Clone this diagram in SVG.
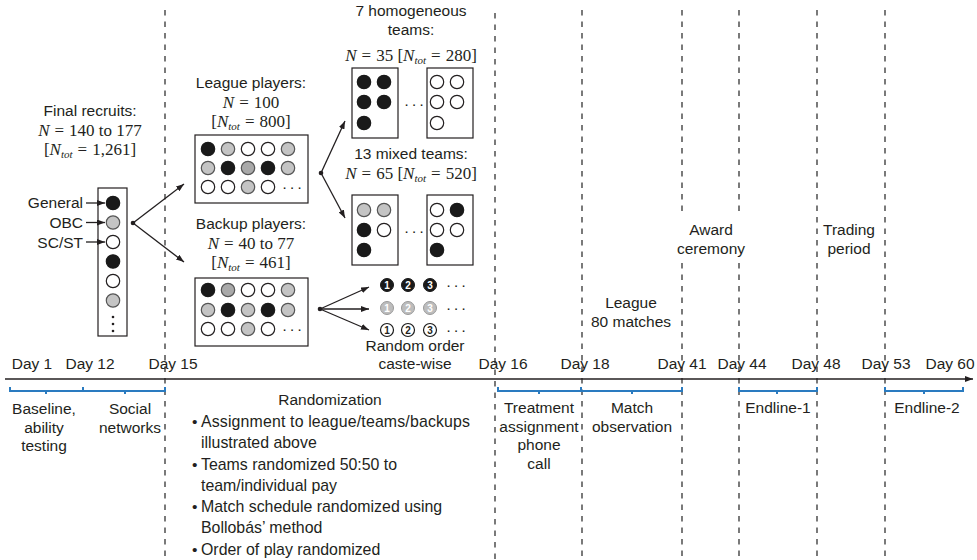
<svg xmlns="http://www.w3.org/2000/svg" width="977" height="560" viewBox="0 0 977 560">
<style>
text{font-family:"Liberation Sans",Arial,sans-serif;font-size:15.5px;fill:#231f20}
.m{font-family:"Liberation Serif","Times New Roman",serif;font-size:17px}
.i{font-style:italic}
.sub{font-style:italic;font-size:11px}
.c{text-anchor:middle}
.r{text-anchor:end}
.b{font-size:15.9px}
.dash{stroke:#333;stroke-width:1.3;stroke-dasharray:5.5 6;fill:none}
.ln{stroke:#231f20;stroke-width:1.3;fill:none}
.box{fill:#fff;stroke:#231f20;stroke-width:1.2}
.k{fill:#1a1a1a;stroke:#1a1a1a;stroke-width:1.2}
.g{fill:#c4c4c4;stroke:#555;stroke-width:1.2}
.g2{fill:#a9a9a9;stroke:#555;stroke-width:1.2}
.w{fill:#fff;stroke:#231f20;stroke-width:1.2}
.br{stroke:#2a7bc0;stroke-width:2;fill:none}
.dots{font-size:15.5px;letter-spacing:2.4px}
.num{font-family:"Liberation Sans",Arial,sans-serif;font-size:10px;font-weight:bold;text-anchor:middle}
</style>
<defs>
<marker id="ah" viewBox="0 0 8 6" refX="8" refY="3" markerWidth="8" markerHeight="6" markerUnits="userSpaceOnUse" orient="auto">
<path d="M0,0 L8,3 L0,6 z" fill="#231f20"/>
</marker>
</defs>
<rect width="977" height="560" fill="#fff"/>

<g id="timeline">
<path class="dash" d="M165,10 V560"/>
<path class="dash" d="M495,13 V560"/>
<path class="dash" d="M582,10 V560"/>
<path class="dash" d="M682,10 V213 M682,263 V560"/>
<path class="dash" d="M739,10 V213 M739,263 V560"/>
<path class="dash" d="M817,10 V560"/>
<path class="dash" d="M885,10 V560"/>
<line class="ln" x1="5" y1="379" x2="973" y2="379" marker-end="url(#ah)"/>
<text class="c" x="32" y="369">Day 1</text>
<text class="c" x="90" y="369">Day 12</text>
<text class="c" x="173" y="369">Day 15</text>
<text class="c" x="503" y="369">Day 16</text>
<text class="c" x="585" y="369">Day 18</text>
<text class="c" x="682" y="369">Day 41</text>
<text class="c" x="742" y="369">Day 44</text>
<text class="c" x="816" y="369">Day 48</text>
<text class="c" x="886" y="369">Day 53</text>
<text class="c" x="950" y="369">Day 60</text>
</g>

<g id="brackets">
<path class="br" d="M10,387 V391 H83 V387 M46,391 V394"/>
<path class="br" d="M83,387 V391 H165 V387 M125,391 V394"/>
<path class="br" d="M498,387 V391 H581 V387 M539,391 V394"/>
<path class="br" d="M581,387 V391 H682 V387 M632,391 V394"/>
<path class="br" d="M739,387 V391 H817 V387 M777,391 V394"/>
<path class="br" d="M885,387 V391 H963 V387 M924,391 V394"/>
</g>

<g id="phase-labels">
<text class="c" x="44" y="414">Baseline,</text>
<text class="c" x="44" y="433">ability</text>
<text class="c" x="44" y="451">testing</text>
<text class="c" x="130" y="414">Social</text>
<text class="c" x="130" y="433">networks</text>
<text class="c" x="330" y="405">Randomization</text>
<text x="192" y="427">•</text><text class="b" x="201" y="427" textLength="269" lengthAdjust="spacing">Assignment to league/teams/backups</text>
<text class="b" x="201" y="448">illustrated above</text>
<text x="192" y="470">•</text><text class="b" x="201" y="470">Teams randomized 50:50 to</text>
<text class="b" x="201" y="491">team/individual pay</text>
<text x="192" y="512">•</text><text class="b" x="201" y="512">Match schedule randomized using</text>
<text class="b" x="201" y="533">Bollobás’ method</text>
<text x="192" y="555">•</text><text class="b" x="201" y="555">Order of play randomized</text>
<text class="c" x="539" y="413">Treatment</text>
<text class="c" x="539" y="432">assignment</text>
<text class="c" x="539" y="450">phone</text>
<text class="c" x="539" y="469">call</text>
<text class="c" x="632" y="413">Match</text>
<text class="c" x="632" y="432">observation</text>
<text class="c" x="778" y="413">Endline-1</text>
<text class="c" x="927" y="413">Endline-2</text>
<text class="c" x="631" y="308">League</text>
<text class="c" x="631" y="327">80 matches</text>
<text class="c" x="711" y="235">Award</text>
<text class="c" x="711" y="254">ceremony</text>
<text class="c" x="849" y="235">Trading</text>
<text class="c" x="849" y="254">period</text>
</g>

<g id="recruits">
<text class="c" x="90" y="116">Final recruits:</text>
<text class="m c" x="90" y="136"><tspan class="i">N</tspan><tspan dx="5">=</tspan><tspan dx="5">140 to 177</tspan></text>
<text class="m c" x="90" y="155">[<tspan class="i">N</tspan><tspan class="sub" dy="3">tot</tspan><tspan dy="-3" dx="5">=</tspan><tspan dx="5">1,261]</tspan></text>
<rect class="box" x="98" y="188" width="29" height="148"/>
<circle class="k" cx="113" cy="203" r="6.7"/>
<circle class="g" cx="113" cy="222.5" r="6.7"/>
<circle class="w" cx="113" cy="242" r="6.7"/>
<circle class="k" cx="113" cy="261.5" r="6.7"/>
<circle class="w" cx="113" cy="281" r="6.7"/>
<circle class="g" cx="113" cy="300.5" r="6.7"/>
<circle cx="113" cy="317" r="1.3" fill="#231f20"/>
<circle cx="113" cy="324" r="1.3" fill="#231f20"/>
<circle cx="113" cy="331" r="1.3" fill="#231f20"/>
<text class="r" x="83" y="208">General</text>
<text class="r" x="83" y="228">OBC</text>
<text class="r" x="83" y="248">SC/ST</text>
</g>

<g id="league">
<text class="c" x="251" y="88">League players:</text>
<text class="m c" x="251" y="108"><tspan class="i">N</tspan><tspan dx="5">=</tspan><tspan dx="5">100</tspan></text>
<text class="m c" x="251" y="127">[<tspan class="i">N</tspan><tspan class="sub" dy="3">tot</tspan><tspan dy="-3" dx="5">=</tspan><tspan dx="5">800]</tspan></text>
<rect class="box" x="195" y="135" width="113" height="68"/>
<circle class="k" cx="208" cy="149" r="6.7"/>
<circle class="g" cx="228" cy="149" r="6.7"/>
<circle class="w" cx="248" cy="149" r="6.7"/>
<circle class="w" cx="268" cy="149" r="6.7"/>
<circle class="g" cx="288" cy="149" r="6.7"/>
<circle class="g" cx="208" cy="168" r="6.7"/>
<circle class="k" cx="228" cy="168" r="6.7"/>
<circle class="g2" cx="248" cy="168" r="6.7"/>
<circle class="k" cx="268" cy="168" r="6.7"/>
<circle class="g" cx="288" cy="168" r="6.7"/>
<circle class="w" cx="208" cy="187" r="6.7"/>
<circle class="w" cx="228" cy="187" r="6.7"/>
<circle class="g" cx="248" cy="187" r="6.7"/>
<circle class="w" cx="268" cy="187" r="6.7"/>
<text class="dots" x="282" y="192">···</text>
</g>

<g id="backup">
<text class="c" x="251" y="229">Backup players:</text>
<text class="m c" x="251" y="249"><tspan class="i">N</tspan><tspan dx="5">=</tspan><tspan dx="5">40 to 77</tspan></text>
<text class="m c" x="251" y="268">[<tspan class="i">N</tspan><tspan class="sub" dy="3">tot</tspan><tspan dy="-3" dx="5">=</tspan><tspan dx="5">461]</tspan></text>
<rect class="box" x="195" y="278" width="113" height="68"/>
<circle class="k" cx="208" cy="290" r="6.7"/>
<circle class="g2" cx="228" cy="290" r="6.7"/>
<circle class="w" cx="248" cy="290" r="6.7"/>
<circle class="w" cx="268" cy="290" r="6.7"/>
<circle class="g" cx="288" cy="290" r="6.7"/>
<circle class="g" cx="208" cy="310" r="6.7"/>
<circle class="k" cx="228" cy="310" r="6.7"/>
<circle class="g" cx="248" cy="310" r="6.7"/>
<circle class="k" cx="268" cy="310" r="6.7"/>
<circle class="g" cx="288" cy="310" r="6.7"/>
<circle class="w" cx="208" cy="329" r="6.7"/>
<circle class="w" cx="228" cy="329" r="6.7"/>
<circle class="g" cx="248" cy="329" r="6.7"/>
<circle class="w" cx="268" cy="329" r="6.7"/>
<text class="dots" x="282" y="334">···</text>
</g>

<g id="homogeneous-teams">
<text class="c" x="411" y="16">7 homogeneous</text>
<text class="c" x="411" y="35">teams:</text>
<text class="m c" x="411" y="61"><tspan class="i">N</tspan><tspan dx="5">=</tspan><tspan dx="5">35 [</tspan><tspan class="i">N</tspan><tspan class="sub" dy="3">tot</tspan><tspan dy="-3" dx="5">=</tspan><tspan dx="5">280]</tspan></text>
<rect class="box" x="352" y="68" width="46" height="70"/>
<circle class="k" cx="364" cy="82" r="6.7"/>
<circle class="k" cx="384" cy="82" r="6.7"/>
<circle class="k" cx="364" cy="102" r="6.7"/>
<circle class="k" cx="384" cy="102" r="6.7"/>
<circle class="k" cx="364" cy="123" r="6.7"/>
<text class="dots" x="404" y="109">···</text>
<rect class="box" x="427" y="68" width="46" height="70"/>
<circle class="w" cx="437" cy="82" r="6.7"/>
<circle class="w" cx="457" cy="82" r="6.7"/>
<circle class="w" cx="437" cy="102" r="6.7"/>
<circle class="w" cx="457" cy="102" r="6.7"/>
<circle class="w" cx="437" cy="123" r="6.7"/>
</g>

<g id="mixed-teams">
<text class="c" x="411" y="159">13 mixed teams:</text>
<text class="m c" x="411" y="179"><tspan class="i">N</tspan><tspan dx="5">=</tspan><tspan dx="5">65 [</tspan><tspan class="i">N</tspan><tspan class="sub" dy="3">tot</tspan><tspan dy="-3" dx="5">=</tspan><tspan dx="5">520]</tspan></text>
<rect class="box" x="352" y="195" width="46" height="70"/>
<circle class="g" cx="364" cy="210" r="6.7"/>
<circle class="g" cx="384" cy="210" r="6.7"/>
<circle class="k" cx="364" cy="230" r="6.7"/>
<circle class="w" cx="384" cy="230" r="6.7"/>
<circle class="k" cx="364" cy="250" r="6.7"/>
<text class="dots" x="404" y="236">···</text>
<rect class="box" x="427" y="195" width="46" height="70"/>
<circle class="w" cx="437" cy="210" r="6.7"/>
<circle class="k" cx="457" cy="210" r="6.7"/>
<circle class="w" cx="437" cy="230" r="6.7"/>
<circle class="w" cx="457" cy="230" r="6.7"/>
<circle class="k" cx="437" cy="250" r="6.7"/>
</g>

<g id="random-order">
<circle cx="387" cy="285" r="6.5" fill="#1a1a1a" stroke="#1a1a1a"/>
<circle cx="408" cy="285" r="6.5" fill="#1a1a1a" stroke="#1a1a1a"/>
<circle cx="430" cy="285" r="6.5" fill="#1a1a1a" stroke="#1a1a1a"/>
<text class="num" x="387" y="288.6" style="fill:#fff">1</text>
<text class="num" x="408" y="288.6" style="fill:#fff">2</text>
<text class="num" x="430" y="288.6" style="fill:#fff">3</text>
<text class="dots" x="446" y="290">···</text>
<circle cx="387" cy="308" r="6.5" fill="#bdbdbd" stroke="#9a9a9a"/>
<circle cx="408" cy="308" r="6.5" fill="#bdbdbd" stroke="#9a9a9a"/>
<circle cx="430" cy="308" r="6.5" fill="#bdbdbd" stroke="#9a9a9a"/>
<text class="num" x="387" y="311.6" style="fill:#fff">1</text>
<text class="num" x="408" y="311.6" style="fill:#fff">2</text>
<text class="num" x="430" y="311.6" style="fill:#fff">3</text>
<text class="dots" x="446" y="313">···</text>
<circle cx="387" cy="330" r="6.5" fill="#fff" stroke="#1a1a1a" stroke-width="1.2"/>
<circle cx="408" cy="330" r="6.5" fill="#fff" stroke="#1a1a1a" stroke-width="1.2"/>
<circle cx="430" cy="330" r="6.5" fill="#fff" stroke="#1a1a1a" stroke-width="1.2"/>
<text class="num" x="387" y="333.6">1</text>
<text class="num" x="408" y="333.6">2</text>
<text class="num" x="430" y="333.6">3</text>
<text class="dots" x="446" y="335">···</text>
<text class="c" x="415" y="351">Random order</text>
<text class="c" x="415" y="369">caste-wise</text>
</g>

<g id="connectors">
<line class="ln" x1="86" y1="203" x2="105" y2="203" marker-end="url(#ah)"/>
<line class="ln" x1="86" y1="222.5" x2="105" y2="222.5" marker-end="url(#ah)"/>
<line class="ln" x1="86" y1="242" x2="105" y2="242" marker-end="url(#ah)"/>
<circle cx="133" cy="223" r="2.3" fill="#231f20"/>
<line class="ln" x1="133" y1="223" x2="184" y2="184" marker-end="url(#ah)"/>
<line class="ln" x1="133" y1="223" x2="184" y2="262" marker-end="url(#ah)"/>
<circle cx="321" cy="173" r="2.3" fill="#231f20"/>
<line class="ln" x1="321" y1="173" x2="345" y2="121" marker-end="url(#ah)"/>
<line class="ln" x1="321" y1="173" x2="345" y2="218" marker-end="url(#ah)"/>
<circle cx="320" cy="309" r="2.3" fill="#231f20"/>
<line class="ln" x1="320" y1="309" x2="369" y2="287" marker-end="url(#ah)"/>
<line class="ln" x1="320" y1="309" x2="369" y2="309" marker-end="url(#ah)"/>
<line class="ln" x1="320" y1="309" x2="369" y2="330" marker-end="url(#ah)"/>
</g>
</svg>
